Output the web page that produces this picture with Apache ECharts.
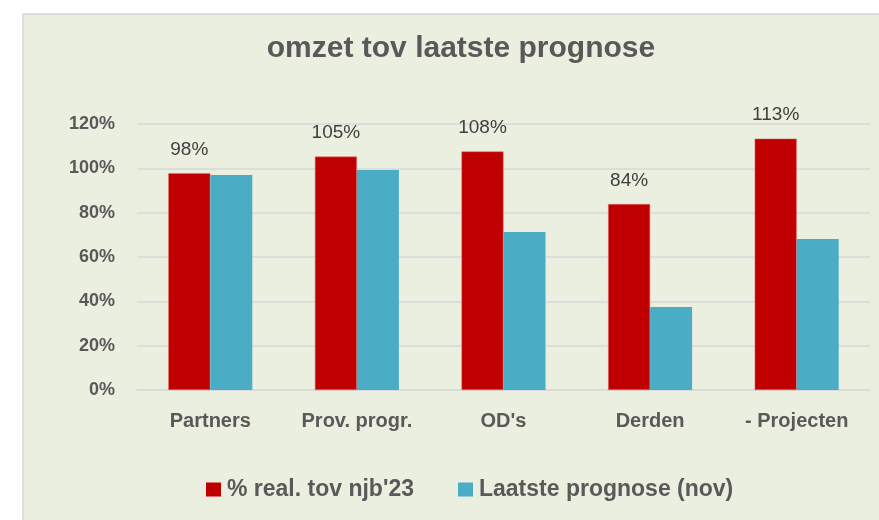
<!DOCTYPE html>
<html>
<head>
<meta charset="utf-8">
<script src="https://cdn.jsdelivr.net/npm/echarts@6/dist/echarts.min.js"></script>
<style>
  html, body { margin: 0; padding: 0; background: #fff; }
  #chart { width: 879px; height: 520px; }
</style>
</head>
<body>
<div id="chart"></div>
<script>
// categorieen en waarden
var categories = ['Partners', 'Prov. progr.', "OD's", 'Derden', '- Projecten']
var realisatie = [97.8, 105.3, 107.6, 83.9, 113.4]
var prognose = [97.0, 99.2, 71.3, 37.4, 68.1]
var yTicks = [0, 20, 40, 60, 80, 100, 120]

var font = "'Liberation Sans', sans-serif"
var myChart = echarts.init(document.getElementById('chart'))
var option = {
  backgroundColor: '#fff',
  textStyle: { fontFamily: font },
  graphic: [
    {
      type: 'rect',
      z: -10,
      shape: { x: 23, y: 14, width: 880, height: 520 },
      style: { fill: '#EBEFDF', stroke: '#D6D6D6', lineWidth: 1.5 }
    }
  ],
  title: {
    text: 'omzet tov laatste prognose',
    left: 456,
    top: 29,
    textAlign: 'center',
    textStyle: { color: '#595959', fontSize: 30, fontWeight: 'bold', fontFamily: font }
  },
  legend: {
    left: 201,
    top: 473,
    itemWidth: 15,
    itemHeight: 14,
    itemGap: 44,
    icon: 'rect',
    itemStyle: { borderWidth: 0 },
    textStyle: { color: '#595959', fontSize: 23, fontWeight: 'bold', fontFamily: font, padding: [0, 0, 0, 1] },
    data: ["% real. tov njb'23", 'Laatste prognose (nov)']
  },
  grid: { left: 137, right: 9, top: 124, bottom: 130 },
  xAxis: {
    type: 'category',
    data: categories,
    axisTick: { show: false },
    axisLine: { lineStyle: { color: '#D9D9D9', width: 1.5 } },
    axisLabel: {
      interval: 0,
      hideOverlap: false,
      color: '#595959',
      fontSize: 20,
      fontWeight: 'bold',
      margin: 21,
      fontFamily: font
    }
  },
  yAxis: {
    type: 'value',
    min: yTicks[0],
    max: yTicks[yTicks.length - 1],
    interval: 20,
    axisLine: { show: false },
    axisTick: { show: false },
    splitLine: { lineStyle: { color: '#D9D9D9', width: 1.5 } },
    axisLabel: { color: '#595959', fontSize: 18, fontWeight: 'bold', margin: 22, formatter: '{value}%', fontFamily: font }
  },
  series: [
    {
      name: "% real. tov njb'23",
      type: 'bar',
      data: realisatie,
      barGap: '0%',
      barCategoryGap: '42.7%',
      itemStyle: { color: '#C00000', borderColor: '#E07070', borderWidth: 0.5 },
      label: {
        show: true,
        position: 'top',
        distance: 14,
        color: '#404040',
        fontSize: 19,
        fontFamily: font,
        formatter: function (p) { return Math.round(p.value) + '%' }
      }
    },
    {
      name: 'Laatste prognose (nov)',
      type: 'bar',
      data: prognose,
      itemStyle: { color: '#4BACC6' }
    }
  ]
}
option && myChart.setOption(option)
</script>
</body>
</html>
